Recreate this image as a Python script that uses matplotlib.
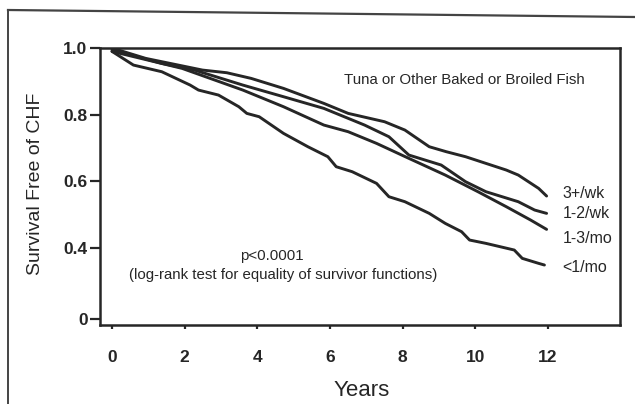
import numpy as np
import matplotlib
matplotlib.use("Agg")
import matplotlib.pyplot as plt
from matplotlib.lines import Line2D

plt.rcParams['font.family'] = ['Liberation Sans', 'DejaVu Sans']

# ---- data ----
years_3wk = [0, 0.93, 2.49, 3.16, 3.83, 4.72, 5.83, 6.50, 7.50, 8.06, 8.73, 9.20, 9.73, 10.29, 10.85, 11.18, 11.74, 11.96]
surv_3wk  = [1.0, 0.969, 0.934, 0.926, 0.909, 0.879, 0.834, 0.804, 0.779, 0.754, 0.704, 0.689, 0.674, 0.654, 0.634, 0.619, 0.579, 0.556]

years_12wk = [0, 1.37, 2.27, 3.60, 4.72, 5.83, 6.95, 7.62, 8.17, 9.06, 9.73, 10.29, 11.18, 11.63, 11.96]
surv_12wk  = [0.995, 0.954, 0.934, 0.889, 0.854, 0.819, 0.769, 0.734, 0.679, 0.649, 0.599, 0.569, 0.539, 0.514, 0.504]

years_13mo = [0, 1.93, 3.60, 4.72, 5.83, 6.50, 7.28, 8.17, 9.17, 10.07, 10.85, 11.52, 11.96]
surv_13mo  = [0.99, 0.939, 0.874, 0.824, 0.769, 0.749, 0.714, 0.669, 0.619, 0.569, 0.524, 0.484, 0.456]

years_lt1mo = [0, 0.59, 1.37, 2.15, 2.38, 2.93, 3.49, 3.71, 4.05, 4.72, 5.39, 5.94, 6.17, 6.61, 7.28, 7.62,
               8.06, 8.73, 9.17, 9.62, 9.84, 10.29, 11.07, 11.29, 11.74, 11.90]
surv_lt1mo  = [0.99, 0.949, 0.929, 0.889, 0.874, 0.859, 0.824, 0.804, 0.794, 0.744, 0.704, 0.674, 0.644, 0.629,
               0.594, 0.554, 0.539, 0.504, 0.474, 0.449, 0.424, 0.414, 0.394, 0.369, 0.354, 0.349]

series_labels = ['3+/wk', '1-2/wk', '1-3/mo', '<1/mo']
label_y = [0.565, 0.505, 0.43, 0.343]
xticks = [0, 2, 4, 6, 8, 10, 12]
yticks = [0, 0.4, 0.6, 0.8, 1.0]
ytick_labels = ['0', '0.4', '0.6', '0.8', '1.0']

# ---- broken y axis: the range below 0.3 is compressed ----
BRK = 0.3
K = 0.377
def fwd(y):
    y = np.asarray(y, dtype=float)
    return np.where(y >= BRK, y, BRK - (BRK - y) * K)
def inv(t):
    t = np.asarray(t, dtype=float)
    return np.where(t >= BRK, t, BRK - (BRK - t) / K)

ink = '#262626'
fig = plt.figure(figsize=(6.35, 4.04), dpi=100)
ax = fig.add_axes([0.1575, 0.1955, 0.9764 - 0.1575, 0.881 - 0.1955])
ax.set_yscale('function', functions=(fwd, inv))

series = [(years_3wk, surv_3wk), (years_12wk, surv_12wk), (years_13mo, surv_13mo), (years_lt1mo, surv_lt1mo)]
for (xs, ys), lab, ly in zip(series, series_labels, label_y):
    ax.plot(xs, ys, color=ink, lw=2.1, solid_joinstyle='round', solid_capstyle='round')
    ax.text(12.4, ly, lab, ha='left', va='center', fontsize=11.5, color=ink)

ax.set_xlim(-0.33, 13.98)
ax.set_ylim(-0.0475, 1.0)
ax.set_xticks(xticks)
ax.set_xticklabels([str(v) for v in xticks])
ax.set_yticks(yticks)
ax.set_yticklabels(ytick_labels)
ax.minorticks_off()
ax.tick_params(axis='y', direction='out', length=7, width=1.6, pad=2, labelsize=12.5, colors=ink)
ax.tick_params(axis='x', direction='out', length=3, width=1.6, pad=15, labelsize=12.5, colors=ink)
for lbl in ax.get_xticklabels() + ax.get_yticklabels():
    lbl.set_fontweight('bold')
for sp in ax.spines.values():
    sp.set_linewidth(1.8)
    sp.set_color(ink)

ax.set_ylabel('Survival Free of CHF', fontsize=14, color=ink)
ax.yaxis.set_label_coords(-0.108, 0.51)
ax.set_xlabel('Years', fontsize=16, color=ink)
ax.xaxis.set_label_coords(0.503, -0.2)

ax.text(0.701, 0.885, 'Tuna or Other Baked or Broiled Fish', transform=ax.transAxes,
        ha='center', va='center', fontsize=10.8, color=ink)
ax.text(0.33, 0.25, 'p<0.0001', transform=ax.transAxes, ha='center', va='center',
        fontsize=10.8, color=ink)
ax.text(0.353, 0.18, '(log-rank test for equality of survivor functions)', transform=ax.transAxes,
        ha='center', va='center', fontsize=10.8, color=ink)

# outer frame of the scanned figure
fig.add_artist(Line2D([8 / 635, 1.0], [1 - 10 / 404, 1 - 17 / 404], transform=fig.transFigure,
                      color='#444444', lw=1.6))
fig.add_artist(Line2D([8 / 635, 8 / 635], [1 - 10 / 404, 0.0], transform=fig.transFigure,
                      color='#444444', lw=1.4))

fig.savefig('out.png', dpi=100)
